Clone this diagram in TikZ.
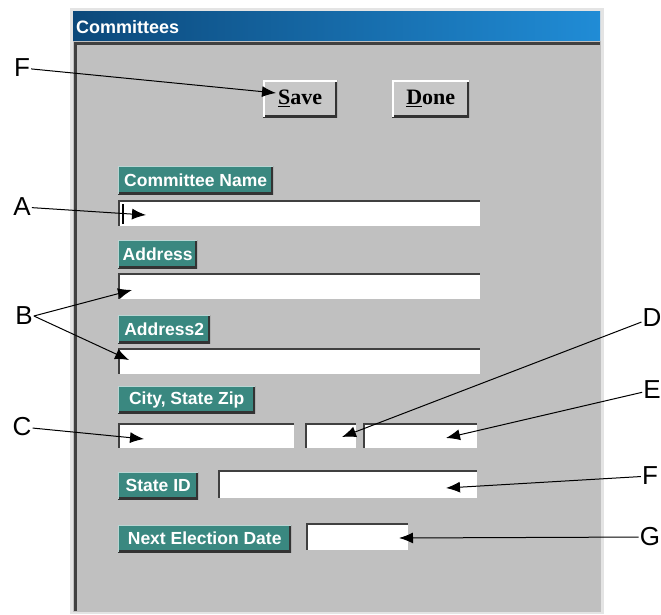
\documentclass[tikz,border=0pt]{standalone}
\usepackage{fontspec}
\setmainfont{Liberation Sans}
\newfontfamily\btnfont{Liberation Serif}
\usetikzlibrary{arrows.meta}

\definecolor{wingray}{RGB}{192,192,192}
\definecolor{winedge}{RGB}{228,228,228}
\definecolor{winshadow}{RGB}{64,64,64}
\definecolor{tagteal}{RGB}{58,136,128}
\definecolor{titledark}{RGB}{12,72,122}
\definecolor{titlelight}{RGB}{32,140,214}

\tikzset{
  field/.style={anchor=north west, fill=white, inner sep=0pt,
    path picture={\draw[winshadow,line width=3pt]
      (path picture bounding box.south west)--(path picture bounding box.north west)
      --(path picture bounding box.north east);}},
  tag/.style={anchor=north west, fill=tagteal, inner sep=0pt, text=white,
    font=\bfseries\fontsize{17.5}{17.5}\selectfont,
    path picture={
      \draw[black!80,line width=4pt]
        (path picture bounding box.south west)--(path picture bounding box.south east)
        --(path picture bounding box.north east);
      \draw[white!65!tagteal,line width=2pt]
        (path picture bounding box.south west)--(path picture bounding box.north west)
        --(path picture bounding box.north east);}},
  button/.style={anchor=north west, fill=black!22, inner sep=0pt,
    font=\btnfont\bfseries\fontsize{22}{22}\selectfont,
    path picture={
      \draw[black!80,line width=4pt]
        (path picture bounding box.south west)--(path picture bounding box.south east)
        --(path picture bounding box.north east);
      \draw[white,line width=3pt]
        (path picture bounding box.south west)--(path picture bounding box.north west)
        --(path picture bounding box.north east);}},
  letter/.style={font=\fontsize{26}{26}\selectfont, inner sep=1pt},
  callout/.style={-{Latex[length=14pt,width=11pt]}, line width=1pt},
}

\begin{document}
\begin{tikzpicture}[x=1pt,y=-1pt]
  \useasboundingbox (0,0) rectangle (661,615);
  % window frame
  \fill[winedge] (70,8) rectangle (604,614);
  \fill[wingray] (73,41) rectangle (601,612);
  \shade[left color=titledark, right color=titlelight] (73,12) rectangle (600,41);
  \draw[winshadow,line width=3pt] (75.5,611)--(75.5,43.5)--(600,43.5);
  \node[anchor=west, text=white, font=\bfseries\fontsize{18}{18}\selectfont, inner sep=0pt] (title) at (76,27) {Committees};

  % buttons
  \node[button, minimum width=74pt, minimum height=37pt] (save) at (263,80) {\underline{S}ave};
  \node[button, minimum width=77pt, minimum height=37pt] (done) at (392,80) {\underline{D}one};

  % labels and entry fields
  \node[tag, minimum width=155pt, minimum height=28pt] (lblname) at (118,166) {Committee Name};
  \node[field, minimum width=362pt, minimum height=26pt] (name) at (118,200) {};
  \draw[line width=1.2pt] (123,204)--(123,224); % text cursor

  \node[tag, minimum width=79pt, minimum height=28pt] (lbladdr) at (118,240) {Address};
  \node[field, minimum width=362pt, minimum height=26pt] (addr) at (118,273) {};

  \node[tag, minimum width=92pt, minimum height=28pt] (lbladdrtwo) at (118,315) {Address2};
  \node[field, minimum width=362pt, minimum height=26pt] (addrtwo) at (118,348) {};

  \node[tag, minimum width=137pt, minimum height=27pt] (lblcity) at (118,386) {City, State Zip};
  \node[field, minimum width=176pt, minimum height=25pt] (city) at (118,423) {};
  \node[field, minimum width=51pt, minimum height=25pt] (state) at (305,423) {};
  \node[field, minimum width=114pt, minimum height=25pt] (zip) at (363,423) {};

  \node[tag, minimum width=80pt, minimum height=27pt] (lblstateid) at (118,472) {State ID};
  \node[field, minimum width=259pt, minimum height=28pt] (stateid) at (218,470) {};

  \node[tag, minimum width=173pt, minimum height=27pt] (lblelect) at (118,525) {Next Election Date};
  \node[field, minimum width=102pt, minimum height=27pt] (elect) at (306,523) {};

  % callout letters
  \node[letter] (F) at (22,68) {F};
  \node[letter] (A) at (22,207) {A};
  \node[letter] (B) at (24,316) {B};
  \node[letter] (C) at (22,427) {C};
  \node[letter] (D) at (652,318) {D};
  \node[letter] (E) at (652,390) {E};
  \node[letter] (Ftwo) at (650,476) {F};
  \node[letter] (G) at (650,537) {G};

  % arrow tips
  \coordinate (tipF) at (276,93);
  \coordinate (tipA) at (146,215);
  \coordinate (tipBa) at (132,290);
  \coordinate (tipBb) at (129,360);
  \coordinate (tipC) at (144,439);
  \coordinate (tipD) at (342,437);
  \coordinate (tipE) at (446,438);
  \coordinate (tipFtwo) at (446,488);
  \coordinate (tipG) at (399,538);

  \draw[callout] (F) -- (tipF);
  \draw[callout] (A) -- (tipA);
  \draw[callout] (B.east) -- (tipBa);
  \draw[callout] (B.east) -- (tipBb);
  \draw[callout] (C) -- (tipC);
  \draw[callout] (D) -- (tipD);
  \draw[callout] (E) -- (tipE);
  \draw[callout] (Ftwo) -- (tipFtwo);
  \draw[callout] (G) -- (tipG);
\end{tikzpicture}
\end{document}
